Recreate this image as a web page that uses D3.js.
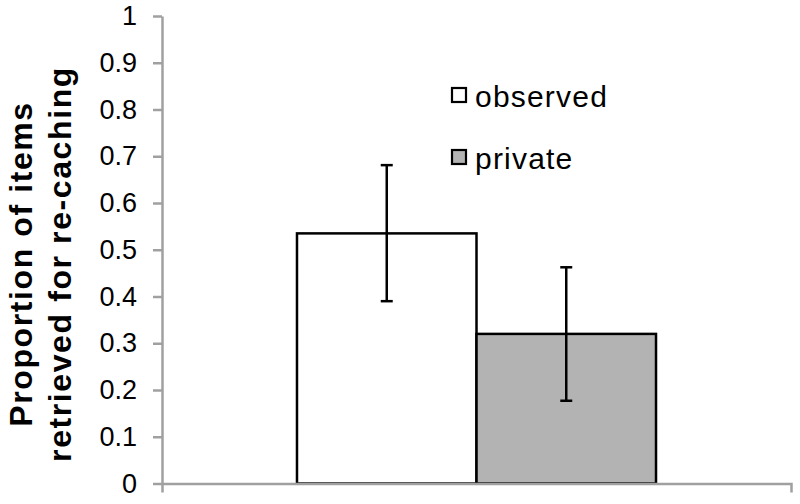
<!DOCTYPE html>
<html>
<head>
<meta charset="utf-8">
<script src="https://cdn.jsdelivr.net/npm/d3@7"></script>
<style>
  html, body { margin: 0; padding: 0; background: #fff; }
  svg { display: block; font-family: "Liberation Sans", Arial, sans-serif; }
</style>
</head>
<body>
<svg id="chart" width="800" height="504"></svg>
<script>
// ---- data ----
const categories = ["observed", "private"];
const values = [0.535, 0.320];
const errLow = [0.390, 0.177];
const errHigh = [0.681, 0.4625];
const barFills = ["#ffffff", "#b3b3b3"];
const yTicks = [0, 0.1, 0.2, 0.3, 0.4, 0.5, 0.6, 0.7, 0.8, 0.9, 1];
const yTickLabels = ["0", "0.1", "0.2", "0.3", "0.4", "0.5", "0.6", "0.7", "0.8", "0.9", "1"];
const groups = [""];
const titleLines = ["Proportion of items", "retrieved for re-caching"];

// ---- layout ----
const svg = d3.select("#chart");
const plot = { left: 162, right: 791, top: 16, bottom: 483.5 };
const axisColor = "#a0a0a0";

const y = d3.scaleLinear().domain([0, 1]).range([plot.bottom, plot.top]);
const x0 = d3.scaleBand().domain(groups).range([plot.left, plot.right])
  .paddingInner(0).paddingOuter(0.376);
const x1 = d3.scaleBand().domain(categories).range([0, x0.bandwidth()]).padding(0);

// y axis
const yAxis = d3.axisLeft(y)
  .tickValues(yTicks)
  .tickFormat((d, i) => yTickLabels[i])
  .tickSize(9)
  .tickSizeOuter(0)
  .tickPadding(16);
const gy = svg.append("g").attr("transform", `translate(${plot.left},0)`).call(yAxis);
gy.select(".domain").attr("stroke", axisColor).attr("stroke-width", 2.5);
gy.selectAll(".tick line").attr("stroke", axisColor).attr("stroke-width", 2.5);
gy.selectAll(".tick text").attr("fill", "#000").attr("font-size", 27)
  .attr("font-family", "Liberation Sans, Arial, sans-serif");

// bars
const g = svg.append("g").attr("transform", `translate(${x0("")},0)`);
g.selectAll("rect.bar").data(categories).join("rect")
  .attr("class", "bar")
  .attr("x", d => x1(d))
  .attr("width", x1.bandwidth())
  .attr("y", (d, i) => y(values[i]))
  .attr("height", (d, i) => y(0) - y(values[i]))
  .attr("fill", (d, i) => barFills[i])
  .attr("stroke", "#000")
  .attr("stroke-width", 2.5);

// x axis (drawn over bar bottoms)
const xEdges = d3.scaleBand().domain(groups).range([plot.left, plot.right]);
const xAxis = d3.axisBottom(xEdges).tickValues([]).tickSizeOuter(9);
const gx = svg.append("g").attr("transform", `translate(0,${plot.bottom})`).call(xAxis);
gx.select(".domain").attr("stroke", axisColor).attr("stroke-width", 2.5);

// error bars
const cap = 6;
const eb = g.selectAll("g.err").data(categories).join("g").attr("class", "err");
eb.append("line")
  .attr("x1", d => x1(d) + x1.bandwidth() / 2)
  .attr("x2", d => x1(d) + x1.bandwidth() / 2)
  .attr("y1", (d, i) => y(errLow[i]))
  .attr("y2", (d, i) => y(errHigh[i]));
eb.append("line")
  .attr("x1", d => x1(d) + x1.bandwidth() / 2 - cap)
  .attr("x2", d => x1(d) + x1.bandwidth() / 2 + cap)
  .attr("y1", (d, i) => y(errHigh[i]))
  .attr("y2", (d, i) => y(errHigh[i]));
eb.append("line")
  .attr("x1", d => x1(d) + x1.bandwidth() / 2 - cap)
  .attr("x2", d => x1(d) + x1.bandwidth() / 2 + cap)
  .attr("y1", (d, i) => y(errLow[i]))
  .attr("y2", (d, i) => y(errLow[i]));
eb.selectAll("line").attr("stroke", "#000").attr("stroke-width", 2.5);

// legend
const legend = svg.append("g").attr("transform", "translate(452,88)");
const li = legend.selectAll("g").data(categories).join("g")
  .attr("transform", (d, i) => `translate(0,${i * 62})`);
li.append("rect").attr("x", 0).attr("y", 0).attr("width", 14).attr("height", 14)
  .attr("fill", (d, i) => barFills[i]).attr("stroke", "#000").attr("stroke-width", 2.2);
li.append("text").attr("x", 23).attr("y", 19)
  .attr("font-size", 30).attr("letter-spacing", 1.2).attr("fill", "#000")
  .text(d => d);

// y axis title
svg.selectAll("text.ytitle").data(titleLines).join("text")
  .attr("class", "ytitle")
  .attr("transform", (d, i) => `translate(${32 + i * 39},264) rotate(-90)`)
  .attr("text-anchor", "middle")
  .attr("font-size", 32)
  .attr("font-weight", "bold")
  .attr("letter-spacing", 1.6)
  .attr("fill", "#000")
  .text(d => d);
</script>
</body>
</html>
